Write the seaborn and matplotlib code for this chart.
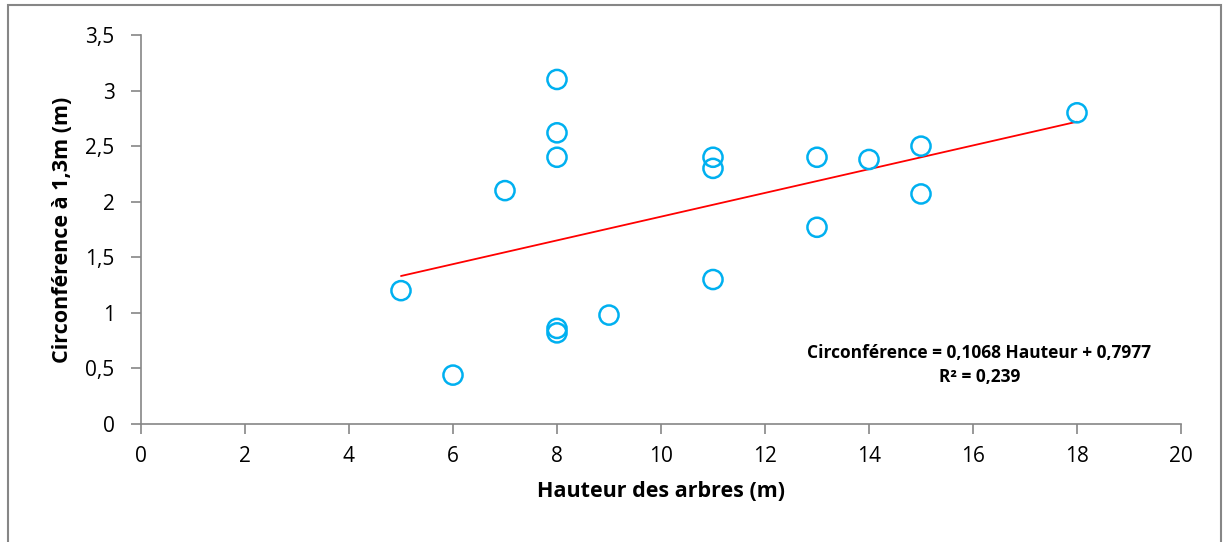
import numpy as np
import pandas as pd
import seaborn as sns
import matplotlib.pyplot as plt
from matplotlib.patches import Rectangle

# tree height (m) and circumference at 1.3 m (m)
hauteur = [5, 6, 7, 8, 8, 8, 8, 8, 9, 11, 11, 11, 13, 13, 14, 15, 15, 18]
circonference = [1.2, 0.44, 2.1, 3.1, 2.62, 2.4, 0.86, 0.82, 0.98,
                 2.4, 2.3, 1.3, 2.4, 1.77, 2.38, 2.5, 2.07, 2.8]
x_ticks = [0, 2, 4, 6, 8, 10, 12, 14, 16, 18, 20]
y_ticks = [0, 0.5, 1, 1.5, 2, 2.5, 3, 3.5]
y_tick_labels = ["0", "0,5", "1", "1,5", "2", "2,5", "3", "3,5"]
slope = 0.1068
intercept = 0.7977
r2 = 0.239

df = pd.DataFrame({"Hauteur": hauteur, "Circonference": circonference})
x_line = np.array([min(hauteur), max(hauteur)])
trend = pd.DataFrame({"x": x_line, "y": slope * x_line + intercept})

sns.set_style("white")
plt.rcParams["font.family"] = ["Open Sans", "DejaVu Sans"]
plt.rcParams["text.color"] = "black"
plt.rcParams["axes.labelcolor"] = "black"

fig = plt.figure(figsize=(12.26, 5.42), dpi=100)
ax = fig.add_axes([0.115, 0.2177, 0.8483, 0.7177])

sns.lineplot(data=trend, x="x", y="y", color="#ff0000", linewidth=1.3, ax=ax, zorder=2)
sns.scatterplot(data=df, x="Hauteur", y="Circonference", s=190, facecolor="none",
                edgecolor="#00b0f0", linewidth=1.8, ax=ax, zorder=3)

ax.set_xlim(0, 20)
ax.set_ylim(0, 3.5)
ax.set_xticks(x_ticks)
ax.set_xticklabels([str(t) for t in x_ticks])
ax.set_yticks(y_ticks)
ax.set_yticklabels(y_tick_labels)
ax.tick_params(axis="both", direction="out", length=7, width=1.2, color="#868686",
               labelsize=15, labelcolor="black", bottom=True, left=True)
ax.tick_params(axis="y", pad=12)
ax.tick_params(axis="x", pad=9)

for side in ["top", "right"]:
    ax.spines[side].set_visible(False)
for side in ["left", "bottom"]:
    ax.spines[side].set_color("#868686")
    ax.spines[side].set_linewidth(1.2)

ax.set_xlabel("Hauteur des arbres (m)", fontsize=15.5, fontweight="bold", labelpad=10)
ax.set_ylabel("Circonférence à 1,3m (m)", fontsize=15.5, fontweight="bold", labelpad=9)

eq = f"Circonférence = {slope:.4f} Hauteur + {intercept:.4f}".replace(".", ",")
ax.text(16.12, 0.53, eq + "\n" + f"R² = {r2:.3f}".replace(".", ","),
        ha="center", va="center", fontsize=12.5, fontweight="bold", linespacing=1.4)

# chart-area frame (bottom edge falls outside the image)
fig.patches.append(Rectangle((8 / 1226, -0.02), 1213 / 1226, 537 / 542 + 0.02,
                             transform=fig.transFigure, fill=False,
                             edgecolor="#868686", linewidth=1.5))

fig.savefig("out.png", dpi=100)
